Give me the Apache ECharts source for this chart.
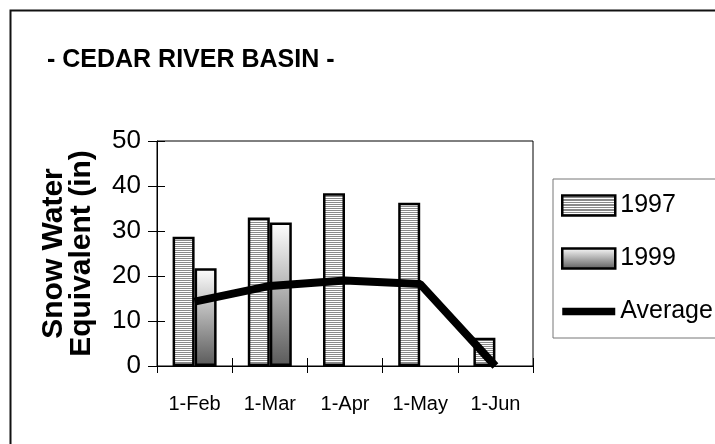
<!DOCTYPE html>
<html>
<head>
<meta charset="utf-8">
<script src="https://cdn.jsdelivr.net/npm/echarts@6/dist/echarts.min.js"></script>
<style>html,body{margin:0;padding:0;background:#fff;}#c{width:715px;height:444px;}</style>
</head>
<body>
<div id="c"></div>
<script>
const categories = ['1-Feb', '1-Mar', '1-Apr', '1-May', '1-Jun'];
const values1997 = [28.7, 33.0, 38.4, 36.3, 6.3];
const values1999 = [21.7, 31.9, null, null, null];
const valuesAverage = [14.3, 17.8, 19.0, 18.2, 0];
const yTicks = { min: 0, max: 50, interval: 10 };
const titleText = '- CEDAR RIVER BASIN -';
const yName = 'Snow Water\nEquivalent (in)';

const FONT = '"Liberation Sans", Arial, sans-serif';

// stripe pattern for 1997 bars
const pc = document.createElement('canvas');
pc.width = 4; pc.height = 2;
const pctx = pc.getContext('2d');
pctx.fillStyle = '#ffffff'; pctx.fillRect(0, 0, 4, 2);
pctx.fillStyle = '#8a8a8a'; pctx.fillRect(0, 0, 4, 1);
const stripe = { image: pc, repeat: 'repeat' };

// hard-stop gradient giving the same stripes on the legend swatch
const stripeStops = [];
const nStripes = 9;
for (let i = 0; i < nStripes; i++) {
  const a = i / nStripes, m = (i + 0.5) / nStripes, b = (i + 1) / nStripes;
  stripeStops.push({ offset: a, color: '#8a8a8a' }, { offset: m, color: '#8a8a8a' },
                   { offset: m, color: '#ffffff' }, { offset: b, color: '#ffffff' });
}
const stripeGrad = new echarts.graphic.LinearGradient(0, 0, 0, 1, stripeStops);

const grad = new echarts.graphic.LinearGradient(0, 0, 0, 1, [
  { offset: 0, color: '#ffffff' },
  { offset: 1, color: '#5a5a5a' }
]);

const chart = echarts.init(document.getElementById('c'), null, { renderer: 'canvas' });
chart.setOption({
  backgroundColor: '#ffffff',
  animation: false,
  textStyle: { fontFamily: FONT },
  title: {
    text: titleText, left: 47, top: 48, padding: 0,
    textStyle: { fontFamily: FONT, fontSize: 25, fontWeight: 'bold', color: '#000', lineHeight: 25 }
  },
  graphic: [{
    type: 'rect', left: 8, top: 8, silent: true, z: -1,
    shape: { x: 0, y: 0, width: 760, height: 480 },
    style: { fill: 'none', stroke: '#111', lineWidth: 2 }
  }],
  legend: {
    orient: 'vertical', left: 553, top: 179,
    padding: [14, 40, 14, 8],
    itemWidth: 53, itemHeight: 20, itemGap: 28,
    borderColor: '#777', borderWidth: 1,
    textStyle: { fontFamily: FONT, fontSize: 25, color: '#000', lineHeight: 20 },
    data: [
      { name: '1997', icon: 'rect', itemStyle: { color: stripeGrad, borderColor: '#000', borderWidth: 2.5 } },
      { name: '1999', icon: 'rect', itemStyle: { borderColor: '#000', borderWidth: 2.5 } },
      { name: 'Average', icon: 'path://M0,0L0,0M0,6H58V14H0ZM0,20L0,20',
        itemStyle: { color: '#000', borderWidth: 0 } }
    ]
  },
  grid: {
    left: 157, top: 141, right: 182, bottom: 78,
    show: true, borderColor: '#000', borderWidth: 1
  },
  xAxis: [{
    type: 'category', data: categories, position: 'bottom',
    axisLine: { lineStyle: { color: '#000', width: 1 } },
    axisTick: { show: true, length: 7, lineStyle: { color: '#000' } },
    axisLabel: { color: '#000', fontSize: 20, margin: 28, fontFamily: FONT }
  }, {
    type: 'category', data: categories, position: 'bottom',
    axisLine: { show: false },
    axisTick: { show: true, inside: true, length: 8, lineStyle: { color: '#000' } },
    axisLabel: { show: false }
  }],
  yAxis: [{
    type: 'value', min: yTicks.min, max: yTicks.max, interval: yTicks.interval,
    position: 'left',
    splitLine: { show: false },
    axisLine: { show: true, lineStyle: { color: '#000', width: 1 } },
    axisTick: { show: true, length: 9, lineStyle: { color: '#000' } },
    axisLabel: { color: '#000', fontSize: 26, margin: 16, fontFamily: FONT, padding: [6, 0, 0, 0] },
    name: yName, nameLocation: 'middle', nameRotate: 90, nameGap: 61,
    nameTextStyle: { fontFamily: FONT, fontSize: 30, fontWeight: 'bold', color: '#000', lineHeight: 28 }
  }, {
    type: 'value', min: yTicks.min, max: yTicks.max, interval: yTicks.interval,
    position: 'left',
    splitLine: { show: false },
    axisLine: { show: false },
    axisTick: { show: true, inside: true, length: 8, lineStyle: { color: '#000' } },
    axisLabel: { show: false }
  }],
  series: [{
    name: '1997', type: 'bar', data: values1997,
    barWidth: 22, barGap: '0%',
    itemStyle: { color: stripe, borderColor: '#000', borderWidth: 2.5 }
  }, {
    name: '1999', type: 'bar', data: values1999,
    barWidth: 22, barGap: '0%',
    itemStyle: { color: grad, borderColor: '#000', borderWidth: 2.5 }
  }, {
    name: 'Average', type: 'line', data: valuesAverage,
    symbol: 'none', showSymbol: false, z: 5,
    lineStyle: { color: '#000', width: 8 },
    itemStyle: { color: '#000' }
  }]
});
</script>
</body>
</html>
